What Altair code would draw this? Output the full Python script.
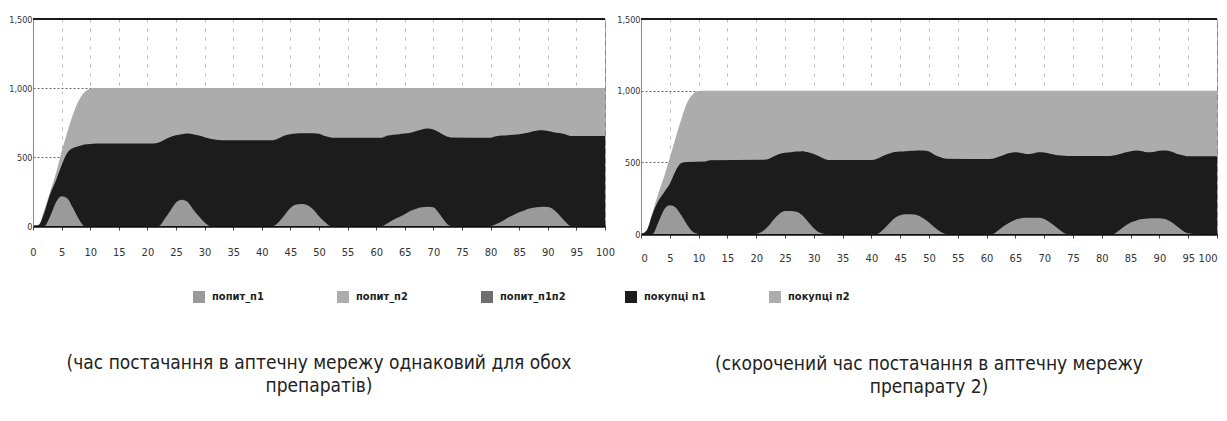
import altair as alt
import pandas as pd

SERIES = ["попит_п1", "попит_п2", "попит_п1п2", "покупці п1", "покупці п2"]
COLORS = ["#9a9a9a", "#adadad", "#6e6e6e", "#1c1c1c", "#acacac"]

X_TICKS = [0, 5, 10, 15, 20, 25, 30, 35, 40, 45, 50, 55, 60, 65, 70, 75, 80, 85, 90, 95, 100]
Y_TICKS = [0, 500, 1000, 1500]

CAPTION_LEFT = ["(час постачання в аптечну мережу однаковий для обох", "препаратів)"]
CAPTION_RIGHT = ["(скорочений час постачання в аптечну мережу", "препарату 2)"]

# ---- left panel (boundaries) ----
L_TOTAL_X = [0, 1, 2, 3, 4, 5, 6, 7, 8, 9, 10, 11, 100]
L_TOTAL_Y = [0, 10, 120, 250, 380, 540, 680, 810, 910, 970, 995, 1000, 1000]

L_N1_X = [0, 1, 2, 3, 4, 5, 6, 7, 8, 9, 10, 11,
          21, 22, 23, 24, 25, 26, 27, 28, 29, 30, 31, 32, 33,
          42, 43, 44, 45, 46, 47, 48, 49, 50, 51, 52, 53,
          61, 62, 63, 64, 65, 66, 67, 68, 69, 70, 71, 72, 73,
          80, 81, 82, 83, 84, 85, 86, 87, 88, 89, 90, 91, 92, 93, 94, 100]
L_N1_Y = [0, 8, 100, 230, 330, 440, 530, 565, 578, 590, 595, 598,
          598, 605, 625, 645, 658, 665, 671, 665, 655, 643, 632, 625, 622,
          622, 635, 655, 665, 670, 672, 672, 672, 668, 652, 642, 640,
          640, 655, 662, 665, 670, 675, 688, 700, 707, 700, 680, 655, 642,
          640, 650, 655, 658, 662, 665, 672, 682, 690, 693, 688, 680, 674, 665, 652, 652]

L_D1_X = [0, 2, 3, 4, 5, 6, 7, 8, 9,
          22, 23, 24, 25, 26, 27, 28, 29, 30, 31,
          42, 43, 44, 45, 46, 47, 48, 49, 50, 51, 52,
          61, 62, 63, 64, 65, 66, 67, 68, 69, 70, 71, 72, 73,
          80, 81, 82, 83, 84, 85, 86, 87, 88, 89, 90, 91, 92, 93, 94, 100]
L_D1_Y = [0, 0, 70, 170, 215, 200, 130, 50, 0,
          0, 50, 110, 170, 190, 175, 120, 70, 25, 0,
          0, 30, 80, 130, 155, 160, 150, 120, 70, 30, 0,
          0, 20, 45, 65, 85, 110, 125, 135, 140, 135, 90, 35, 0,
          0, 15, 35, 60, 80, 100, 115, 128, 135, 140, 138, 120, 80, 35, 0, 0]

# ---- right panel ----
R_TOTAL_X = [0, 1, 2, 3, 4, 5, 6, 7, 8, 9, 10, 11, 100]
R_TOTAL_Y = [0, 30, 150, 280, 400, 530, 670, 800, 915, 975, 997, 1000, 1000]

R_N1_X = [0, 1, 2, 3, 4, 5, 6, 7, 8, 11, 12,
          21, 22, 23, 24, 25, 26, 27, 28, 29, 30, 31, 32, 33,
          40, 41, 42, 43, 44, 45, 46, 47, 48, 49, 50, 51, 52, 53,
          60, 61, 62, 63, 64, 65, 66, 67, 68, 69, 70, 71, 72, 73, 74,
          81, 82, 83, 84, 85, 86, 87, 88, 89, 90, 91, 92, 93, 94, 95, 100]
R_N1_Y = [0, 25, 140, 230, 290, 350, 440, 495, 502, 505, 515,
          518, 522, 540, 558, 566, 570, 575, 578, 570, 558, 540, 522, 516,
          516, 525, 545, 560, 572, 576, 578, 580, 583, 583, 575, 552, 535, 525,
          523, 525, 538, 552, 565, 571, 565, 558, 562, 571, 568, 560, 552, 548, 544,
          544, 548, 556, 568, 578, 583, 578, 570, 572, 580, 583, 575, 560, 550, 542, 542]

R_D1_X = [0, 2, 3, 4, 5, 6, 7, 8, 9, 10,
          20, 21, 22, 23, 24, 25, 26, 27, 28, 29, 30, 31, 32,
          41, 42, 43, 44, 45, 46, 47, 48, 49, 50, 51, 52, 53,
          61, 62, 63, 64, 65, 66, 67, 68, 69, 70, 71, 72, 73, 74,
          82, 83, 84, 85, 86, 87, 88, 89, 90, 91, 92, 93, 94, 95, 96, 100]
R_D1_Y = [0, 0, 80, 170, 200, 185, 130, 65, 15, 0,
          0, 15, 50, 100, 140, 160, 160, 155, 130, 85, 40, 10, 0,
          0, 30, 70, 110, 130, 137, 137, 130, 110, 80, 45, 15, 0,
          0, 25, 55, 80, 100, 110, 113, 113, 113, 105, 80, 50, 20, 0,
          0, 25, 55, 80, 95, 105, 108, 110, 110, 105, 85, 55, 25, 5, 0, 0]

NARROW = "DejaVu Sans Condensed, sans-serif"
color_scale = alt.Scale(domain=SERIES, range=COLORS)


def area_layer(xs, ys, name, xpad, flush):
    df = pd.DataFrame({"x": xs, "y": ys, "series": name})
    return alt.Chart(df).mark_area(interpolate="monotone", opacity=1).encode(
        x=alt.X("x:Q", scale=alt.Scale(domain=[0, 100], nice=False),
                axis=alt.Axis(values=X_TICKS, title=None, labelOverlap=False,
                              labelFlush=flush, labelPadding=xpad)),
        y=alt.Y("y:Q", stack=None, scale=alt.Scale(domain=[0, 1500], nice=False),
                axis=alt.Axis(values=Y_TICKS, format=",.0f", title=None)),
        color=alt.Color("series:N", scale=color_scale, legend=alt.Legend(title=None)),
    )


def panel(tx, ty, bx, by, dx, dy, width, height, caption, offset, xpad, flush):
    top = alt.Chart(pd.DataFrame({"y": [Y_TICKS[-1]]})).mark_rule(
        color="#1a1a1a", strokeWidth=2).encode(y="y:Q")
    return alt.layer(
        area_layer(tx, ty, SERIES[4], xpad, flush),
        area_layer(bx, by, SERIES[3], xpad, flush),
        area_layer(dx, dy, SERIES[0], xpad, flush),
        top,
    ).properties(
        width=width, height=height,
        title=alt.TitleParams(text=caption, orient="bottom", anchor="middle",
                              offset=offset, font=NARROW, fontSize=19,
                              fontWeight="normal", color="#222", lineHeight=23),
    )


left = panel(L_TOTAL_X, L_TOTAL_Y, L_N1_X, L_N1_Y, L_D1_X, L_D1_Y, 572, 207,
             CAPTION_LEFT, 97, 16, False)
right = panel(R_TOTAL_X, R_TOTAL_Y, R_N1_X, R_N1_Y, R_D1_X, R_D1_Y, 576, 215,
              CAPTION_RIGHT, 92, 14, True)

chart = alt.hconcat(left, right, spacing=1).resolve_scale(color="shared").properties(
    padding={"left": 0, "top": 6, "right": 0, "bottom": 0}
).configure_view(stroke="#888", strokeWidth=1).configure_axis(
    labelFont=NARROW, labelColor="#333", gridWidth=1,
).configure_axisX(
    grid=True, gridDash=[3, 6], gridColor="#bbbbbb", domainColor="#111", domainWidth=2.5,
    ticks=True, tickSize=4, tickColor="#444", labelFontSize=11,
).configure_axisY(
    grid=True, gridDash=[2, 2], gridColor="#666", domainColor="#888", domainWidth=1,
    ticks=False, labelFontSize=9, labelPadding=1,
).configure_legend(
    orient="none", legendX=160, legendY=272, direction="horizontal", columns=5,
    symbolType="square", symbolSize=144, symbolStrokeWidth=0, labelFont=NARROW,
    labelFontSize=11, labelFontWeight="bold", labelColor="#222", labelOffset=7,
    columnPadding=59, gridAlign="all",
)

chart.save("out.html", embed_options={"renderer": "svg", "actions": False})
